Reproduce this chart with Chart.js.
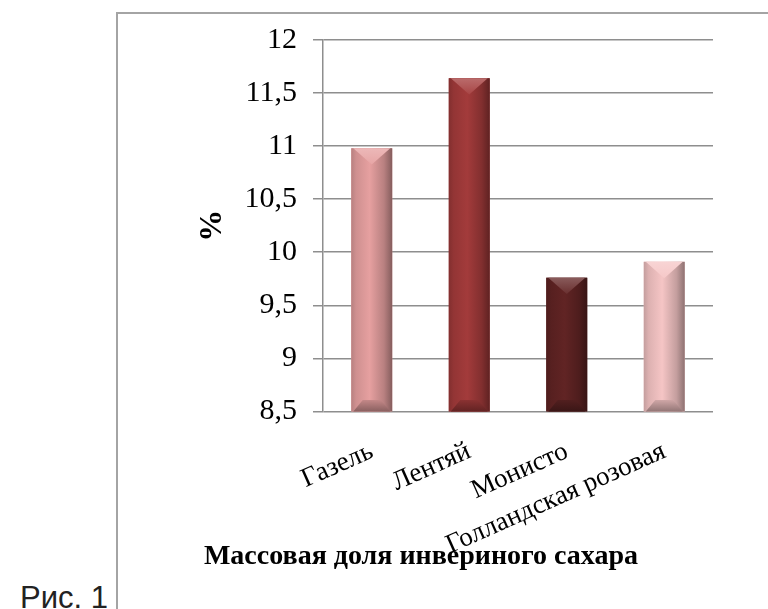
<!DOCTYPE html>
<html>
<head>
<meta charset="utf-8">
<script src="https://cdn.jsdelivr.net/npm/chart.js@4"></script>
<style>
    body { margin: 0; background: #fff; overflow: hidden; }
    #frame {
        position: absolute; left: 116px; top: 12px; width: 800px; height: 700px;
        border-left: 2px solid #a4a4a4; border-top: 2px solid #a4a4a4;
    }
    #fig {
        position: absolute; left: 20px; top: 580px;
        font-family: "Liberation Sans", Arial, sans-serif; font-size: 31px; color: #222;
    }
    #chart { position: absolute; left: 0; top: 0; }
</style>
</head>
<body>
<div id="frame"></div>
<div id="fig">Рис. 1</div>
<canvas id="chart" width="768" height="609"></canvas>
<script>
// Data
const categories = ['Газель', 'Лентяй', 'Монисто', 'Голландская розовая'];
const values = [10.98, 11.64, 9.76, 9.91];
const yTicks = { min: 8.5, max: 12, step: 0.5 };
const barColors = ['#e6a0a0', '#a33b3b', '#612424', '#f5c5c5'];

const serif = '"Liberation Serif", "Times New Roman", serif';

// Lighten / darken a hex colour
function shade(hex, f) {
    const n = parseInt(hex.slice(1), 16);
    let r = n >> 16, g = (n >> 8) & 255, b = n & 255;
    if (f >= 0) {
        r += (255 - r) * f; g += (255 - g) * f; b += (255 - b) * f;
    } else {
        r *= 1 + f; g *= 1 + f; b *= 1 + f;
    }
    return `rgb(${Math.round(r)},${Math.round(g)},${Math.round(b)})`;
}

// Draw the bevelled look on top of each bar
const bevelPlugin = {
    id: 'bevel',
    afterDatasetsDraw(chart) {
        const ctx = chart.ctx;
        const area = chart.chartArea;
        chart.getDatasetMeta(0).data.forEach((bar, i) => {
            const { x, y, width } = bar.getProps(['x', 'y', 'width'], true);
            const base = area.bottom;
            const c = barColors[i];
            const l = x - width / 2, r = x + width / 2;
            const d = width * 0.4;
            ctx.save();
            // body
            const g = ctx.createLinearGradient(l, 0, r, 0);
            g.addColorStop(0, shade(c, -0.2));
            g.addColorStop(0.12, shade(c, -0.1));
            g.addColorStop(0.45, c);
            g.addColorStop(0.8, shade(c, -0.2));
            g.addColorStop(1, shade(c, -0.42));
            ctx.fillStyle = g;
            ctx.fillRect(l, y, width, base - y);
            // top bevel
            const gt = ctx.createLinearGradient(0, y, 0, y + d);
            gt.addColorStop(0, shade(c, 0.25));
            gt.addColorStop(1, shade(c, 0.05));
            ctx.fillStyle = gt;
            ctx.beginPath();
            ctx.moveTo(l + 2, y);
            ctx.lineTo(r - 2, y);
            ctx.lineTo(x, y + d);
            ctx.closePath();
            ctx.fill();
            // bottom bevel
            const gb = ctx.createLinearGradient(0, base - d * 0.7, 0, base);
            gb.addColorStop(0, shade(c, -0.15));
            gb.addColorStop(1, shade(c, -0.4));
            ctx.fillStyle = gb;
            ctx.beginPath();
            ctx.moveTo(l + 2, base);
            ctx.lineTo(r - 2, base);
            ctx.lineTo(r - d * 0.7, base - d * 0.7);
            ctx.lineTo(l + d * 0.7, base - d * 0.7);
            ctx.closePath();
            ctx.fill();
            ctx.restore();
        });
    }
};

new Chart(document.getElementById('chart'), {
    type: 'bar',
    data: {
        labels: categories,
        datasets: [{
            data: values,
            backgroundColor: barColors,
            borderWidth: 0,
            categoryPercentage: 1,
            barPercentage: 0.42
        }]
    },
    options: {
        responsive: false,
        animation: false,
        events: [],
        layout: { padding: { left: 129, right: 55, top: 40, bottom: 0 } },
        plugins: {
            legend: { display: false },
            tooltip: { enabled: false },
            title: {
                display: true,
                position: 'bottom',
                text: 'Массовая доля инвериного сахара',
                color: '#000',
                font: { family: serif, size: 28, weight: 'bold' },
                padding: { top: -24, bottom: 35 }
            }
        },
        scales: {
            x: {
                grid: { display: false },
                border: { display: false },
                ticks: {
                    color: '#000',
                    font: { family: serif, size: 27 },
                    minRotation: 24,
                    maxRotation: 24,
                    padding: 16
                },
                afterFit(scale) { scale.height = 153; }
            },
            y: {
                min: yTicks.min,
                max: yTicks.max,
                grid: { color: '#8e8e8e', lineWidth: 1.5, tickLength: 10 },
                border: { color: '#8e8e8e', width: 1.5 },
                ticks: {
                    stepSize: yTicks.step,
                    color: '#000',
                    font: { family: serif, size: 30 },
                    padding: 16,
                    callback: v => String(v).replace('.', ',')
                },
                title: {
                    display: true,
                    text: '%',
                    color: '#000',
                    font: { family: serif, size: 32, weight: 'bold' },
                    padding: { top: 65, bottom: 0 }
                },
                afterFit(scale) { scale.width = 194; }
            }
        }
    },
    plugins: [bevelPlugin]
});
</script>
</body>
</html>
